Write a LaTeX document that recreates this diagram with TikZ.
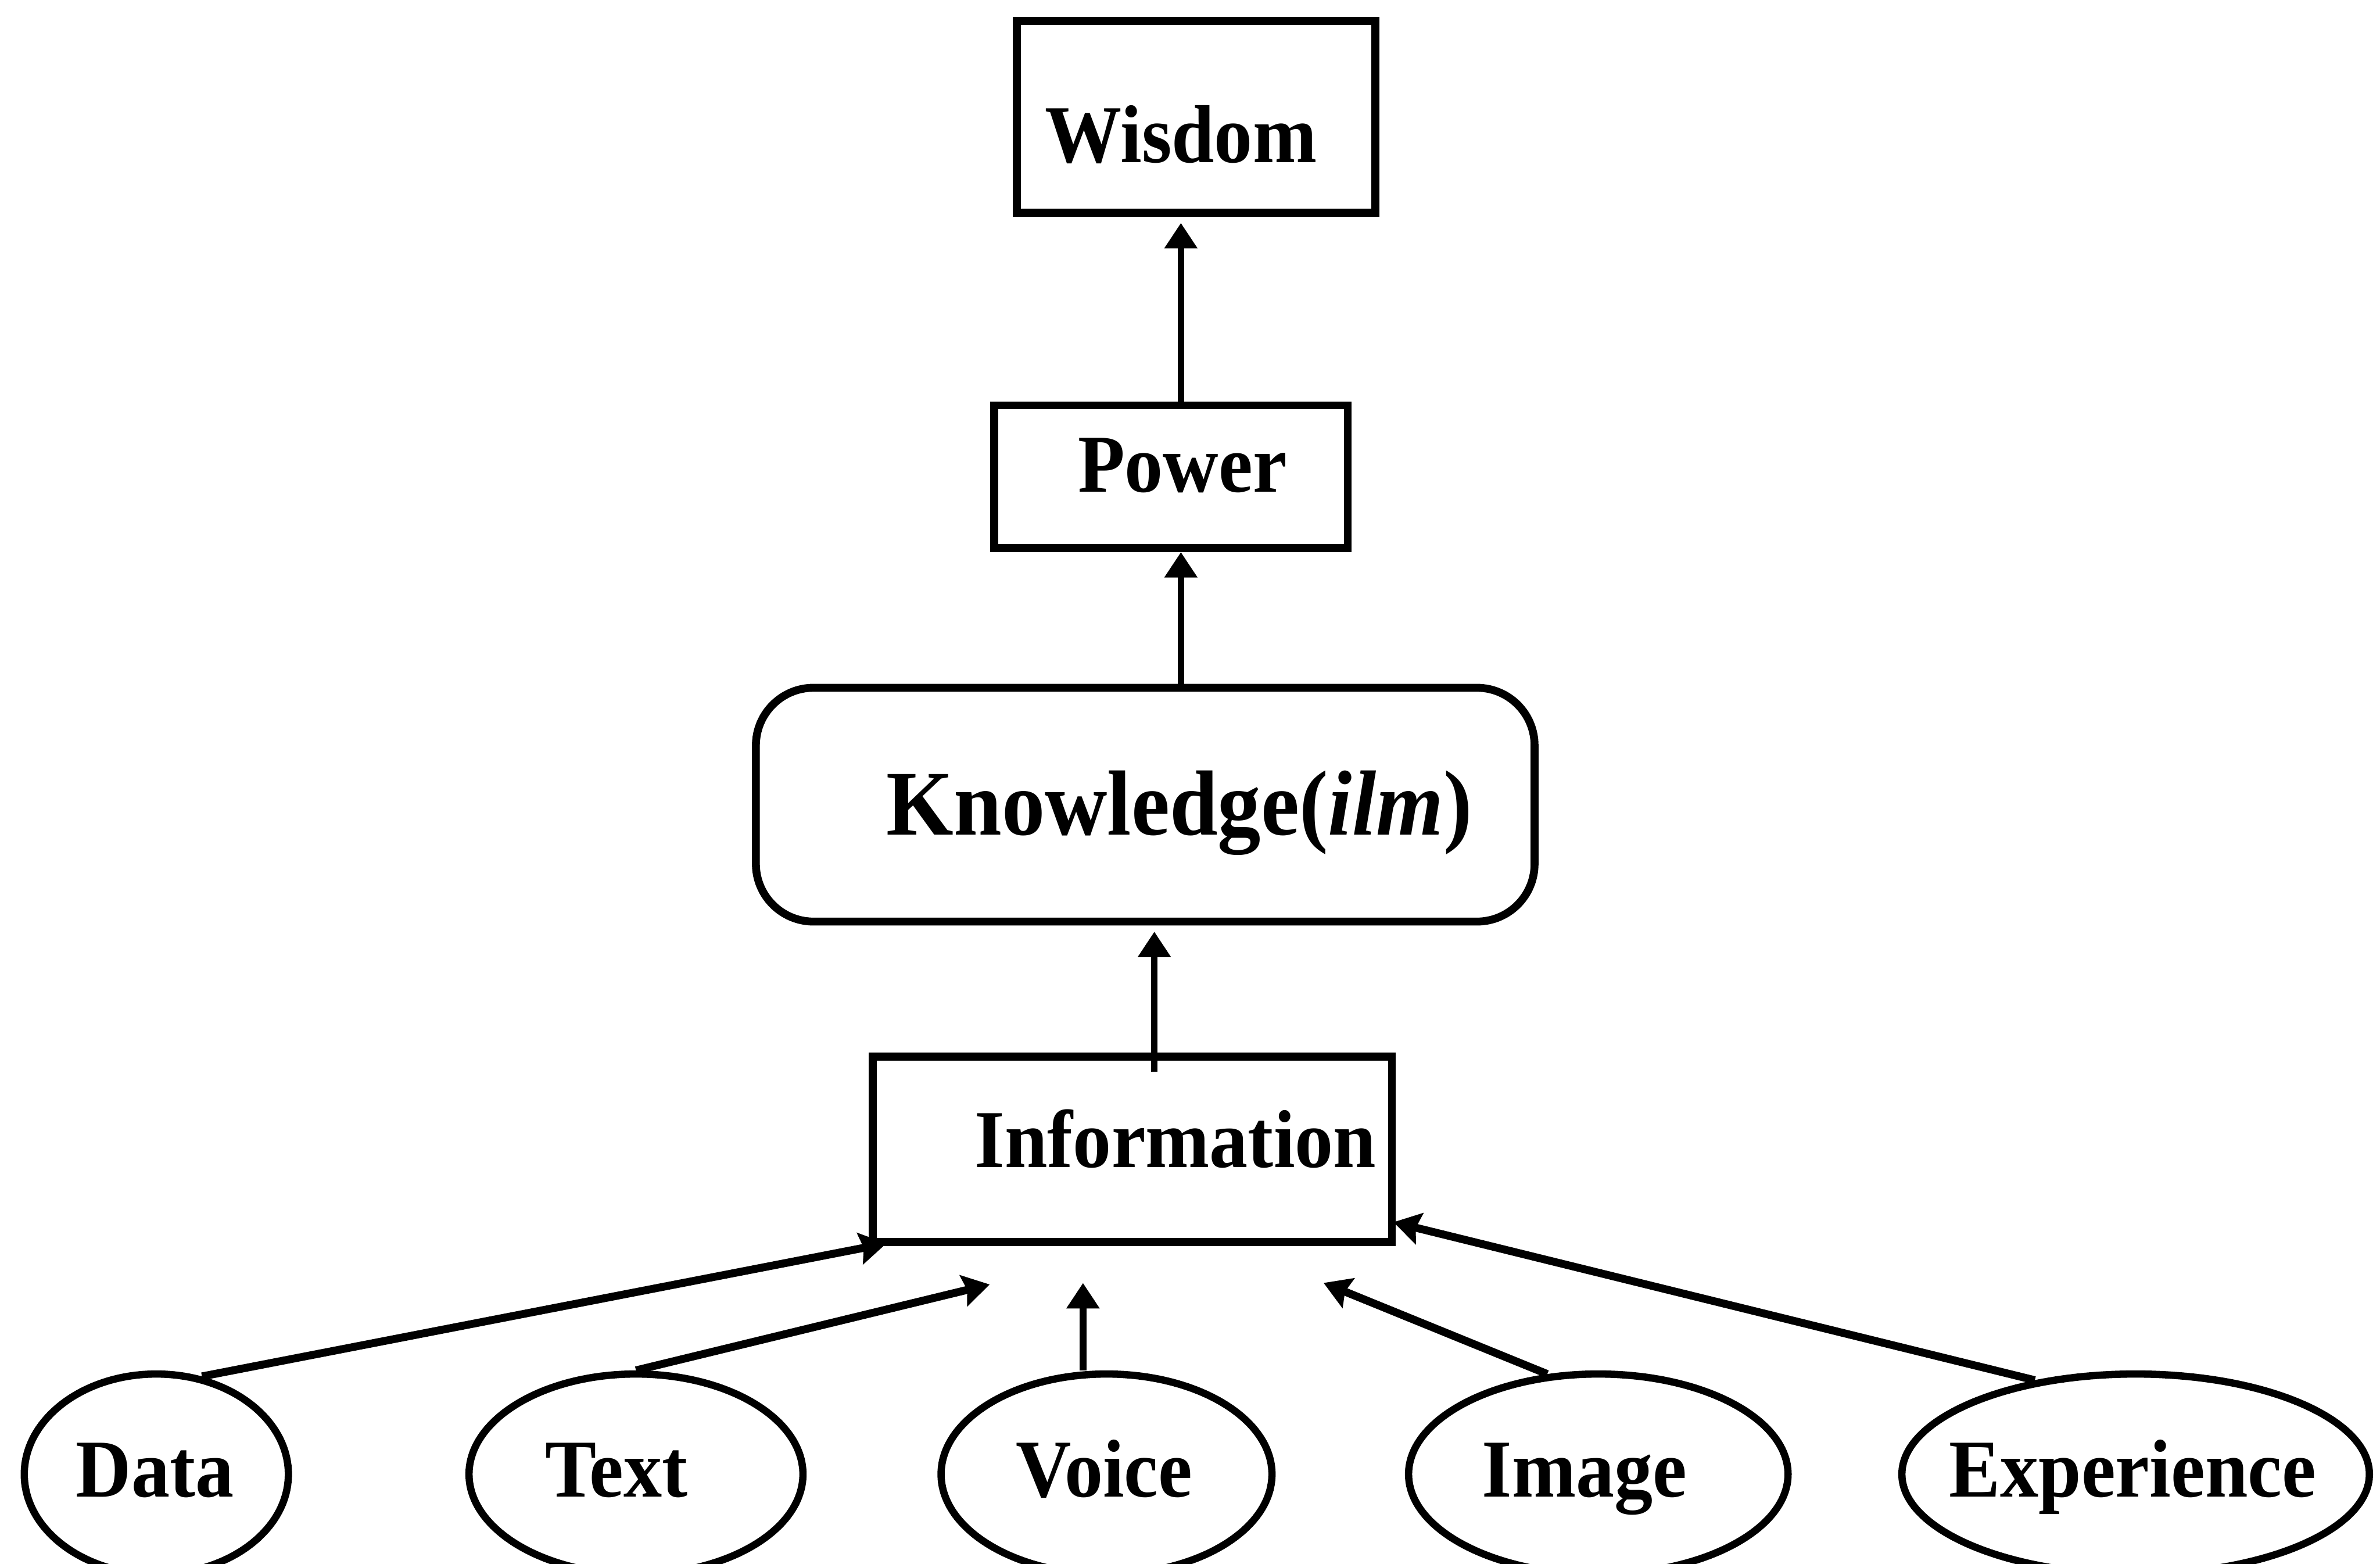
\documentclass[tikz,border=0pt]{standalone}
\usepackage{fontspec}
\setmainfont{Liberation Serif}
\usetikzlibrary{shapes.geometric,arrows.meta,calc}

% labels are set slightly taller than the regular face
\newcommand\tallT[1]{\scalebox{1}[1.07]{#1}}

\begin{document}
\begin{tikzpicture}[x=0.25mm,y=-0.25mm,
  box/.style={draw,line width=1.3mm,inner sep=0pt},
  oval/.style={draw,ellipse,line width=1.2mm,inner sep=0pt,minimum height=33mm},
  lbl/.style={font=\fontsize{36}{40}\selectfont\bfseries,inner sep=0pt,anchor=base},
  uparr/.style={line width=1.1mm,-{Triangle[length=4.2mm,width=5.2mm]}},
  inarr/.style={line width=1.3mm,-{Stealth[length=4.4mm,width=5.2mm,inset=0.6mm]}}]

% page frame
\useasboundingbox (0,0) rectangle (1568,1030);
\fill[white] (0,0) rectangle (1568,1030);

% hierarchy boxes
\node[box,minimum width=59mm,minimum height=31.6mm] (wisdom) at (788,77) {};
\node[box,minimum width=58.25mm,minimum height=23.5mm] (power) at (771.5,314) {};
\node[box,rounded corners=9.5mm,minimum width=128.25mm,minimum height=38.5mm] (know) at (754.5,530) {};
\node[box,minimum width=85.5mm,minimum height=30.5mm] (info) at (746,757) {};

% box labels
\node[lbl] (wisdomT) at (778,107) {\tallT{Wisdom}};
\node[lbl] (powerT) at (779,324) {\tallT{Power}};
\node[lbl,font=\fontsize{40.5}{44}\selectfont\bfseries] (knowT) at (777,550) {\tallT{Knowledge(\textit{ilm})}};
\node[lbl] (infoT) at (774.5,769) {\tallT{Information}};

% source ovals
\node[oval,minimum width=43.5mm] (data) at (103,971) {};
\node[oval,minimum width=55mm] (txt) at (419,971) {};
\node[oval,minimum width=54.5mm] (voice) at (729,971) {};
\node[oval,minimum width=62.5mm] (image) at (1053,971) {};
\node[oval,minimum width=77mm] (exper) at (1407,971) {};

\node[lbl] (dataT) at (102,986) {\tallT{Data}};
\node[lbl] (txtT) at (406,986) {\tallT{Text}};
\node[lbl] (voiceT) at (727.5,986) {\tallT{Voice}};
\node[lbl] (imageT) at (1044,986) {\tallT{Image}};
\node[lbl] (experT) at (1405,986) {\tallT{Experience}};

% upward links between levels
\draw[uparr,shorten >=1mm] (power.north -| wisdomT) -- (wisdom.south -| wisdomT);
\draw[uparr] (know.north -| wisdomT) -- (power.south -| wisdomT);
\coordinate (kin) at (760.5,706);
\draw[uparr,shorten >=1mm] (kin) -- (kin |- know.south);

% arrow ends below the information box
\coordinate (tipData) at (584,819);
\coordinate (tipTxt) at (652,846);
\coordinate (tipVoice) at (713.5,845);
\coordinate (tipImage) at (872,845);
\coordinate (tipExper) at (918,805);

\draw[inarr] (data.65) -- (tipData);
\draw[inarr] (txt.north) -- (tipTxt);
\draw[uparr] (voice.north -| tipVoice) -- (tipVoice);
\draw[inarr] (image.117) -- (tipImage);
\draw[inarr] (exper.137) -- (tipExper);
\end{tikzpicture}
\end{document}
